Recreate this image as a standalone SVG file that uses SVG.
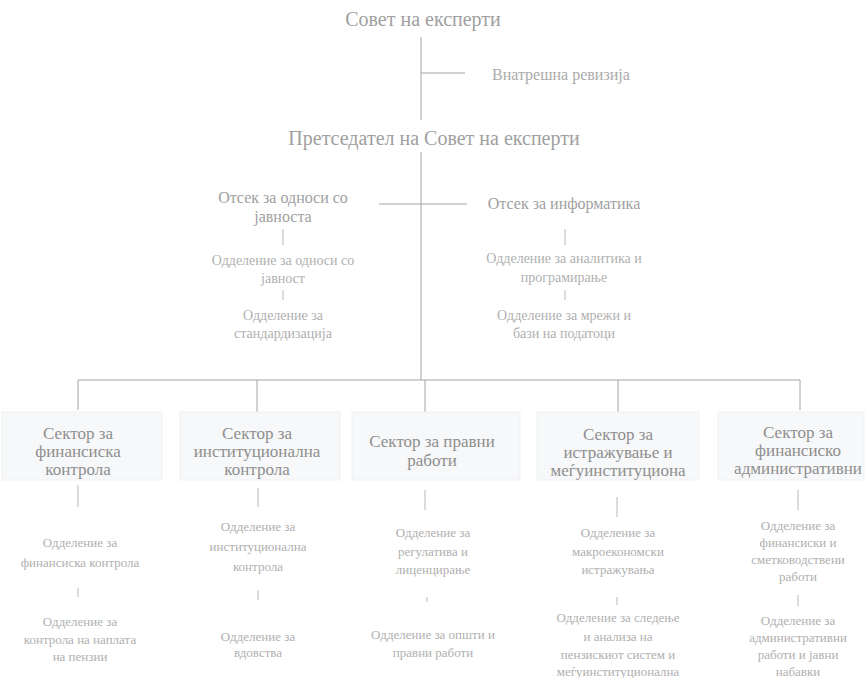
<svg xmlns="http://www.w3.org/2000/svg" width="866" height="678" viewBox="0 0 866 678">
<style>
text{font-family:"Liberation Serif","DejaVu Serif",serif;text-anchor:middle}
.top{font-size:20px;fill:#a0a0a0}
.side{font-size:16px;fill:#ababab;text-anchor:start}
.otsek{font-size:16px;fill:#a0a0a0}
.usub{font-size:14px;fill:#b0b0b0}
.sub{font-size:13px;fill:#b0b0b0}
.sec{font-size:17px;fill:#8e8e8e}
.box{fill:#f7f8f9;stroke:#f0f1f2;stroke-width:1}
.ln{stroke:#a4a4a4;stroke-width:1;fill:none}
.tk{stroke:#b8b8b8;stroke-width:1;fill:none}
</style>
<rect width="866" height="678" fill="#ffffff"/>
<g id="connectors">
<path class="ln" d="M421 37V120M421 73H465M421 152V380M379 204H467M78 380H800M78 380V410M257 380V412M425 380V413M618 380V412M800 380V410"/>
<path class="tk" d="M283 229V245M283 290V300M565 229V245M565 290V300M78 485V507M258 488V507M425 490V510M617 497V517M798 490V510M78 588V597M258 590V600M427 597V602M617 597V605M798 595V606"/>
</g>
<g id="sovet"><text class="top" x="423" y="26">Совет на експерти</text></g>
<g id="revizija"><text class="side" x="492" y="80">Внатрешна ревизија</text></g>
<g id="pretsedatel"><text class="top" x="434" y="145">Претседател на Совет на експерти</text></g>
<g id="otsek-javnost"><text class="otsek" x="283" y="203">Отсек за односи со</text><text class="otsek" x="283" y="222">јавноста</text></g>
<g id="odd-javnost"><text class="usub" x="283" y="265">Одделение за односи со</text><text class="usub" x="283" y="283">јавност</text></g>
<g id="odd-standard"><text class="usub" x="283" y="320">Одделение за</text><text class="usub" x="283" y="338">стандардизација</text></g>
<g id="otsek-info"><text class="otsek" x="564" y="209">Отсек за информатика</text></g>
<g id="odd-analitika"><text class="usub" x="564" y="263">Одделение за аналитика и</text><text class="usub" x="564" y="282">програмирање</text></g>
<g id="odd-mrezi"><text class="usub" x="564" y="320">Одделение за мрежи и</text><text class="usub" x="564" y="338">бази на податоци</text></g>
<g id="sec1"><rect class="box" x="2" y="412" width="160" height="68"/><text class="sec" x="78" y="439">Сектор за</text><text class="sec" x="78" y="457">финансиска</text><text class="sec" x="78" y="475">контрола</text></g>
<g id="sec2"><rect class="box" x="180" y="412" width="160" height="68"/><text class="sec" x="257" y="439">Сектор за</text><text class="sec" x="257" y="457">институционална</text><text class="sec" x="257" y="475">контрола</text></g>
<g id="sec3"><rect class="box" x="352" y="412" width="168" height="68"/><text class="sec" x="432" y="447">Сектор за правни</text><text class="sec" x="432" y="466">работи</text></g>
<g id="sec4"><rect class="box" x="537" y="412" width="162" height="68"/><text class="sec" x="618" y="440">Сектор за</text><text class="sec" x="618" y="458">истражување и</text><text class="sec" x="618" y="476">меѓуинституциона</text></g>
<g id="sec5"><rect class="box" x="718" y="412" width="146" height="68"/><text class="sec" x="798" y="438">Сектор за</text><text class="sec" x="798" y="456">финансиско</text><text class="sec" x="798" y="474">административни</text></g>
<g id="odd1a"><text class="sub" x="80" y="547">Одделение за</text><text class="sub" x="80" y="567">финансиска контрола</text></g>
<g id="odd1b"><text class="sub" x="80" y="626">Одделение за</text><text class="sub" x="80" y="644">контрола на наплата</text><text class="sub" x="80" y="661">на пензии</text></g>
<g id="odd2a"><text class="sub" x="258" y="531">Одделение за</text><text class="sub" x="258" y="551">институционална</text><text class="sub" x="258" y="571">контрола</text></g>
<g id="odd2b"><text class="sub" x="258" y="641">Одделение за</text><text class="sub" x="258" y="657">вдовства</text></g>
<g id="odd3a"><text class="sub" x="433" y="537">Одделение за</text><text class="sub" x="433" y="556">регулатива и</text><text class="sub" x="433" y="574">лиценцирање</text></g>
<g id="odd3b"><text class="sub" x="433" y="639">Одделение за општи и</text><text class="sub" x="433" y="657">правни работи</text></g>
<g id="odd4a"><text class="sub" x="618" y="537">Одделение за</text><text class="sub" x="618" y="556">макроекономски</text><text class="sub" x="618" y="574">истражувања</text></g>
<g id="odd4b"><text class="sub" x="618" y="622">Одделение за следење</text><text class="sub" x="618" y="641">и анализа на</text><text class="sub" x="618" y="659">пензискиот систем и</text><text class="sub" x="618" y="676">меѓуинституционална</text></g>
<g id="odd5a"><text class="sub" x="798" y="530">Одделение за</text><text class="sub" x="798" y="547">финансиски и</text><text class="sub" x="798" y="564">сметководствени</text><text class="sub" x="798" y="581">работи</text></g>
<g id="odd5b"><text class="sub" x="798" y="625">Одделение за</text><text class="sub" x="798" y="642">административни</text><text class="sub" x="798" y="659">работи и јавни</text><text class="sub" x="798" y="676">набавки</text></g>
</svg>
